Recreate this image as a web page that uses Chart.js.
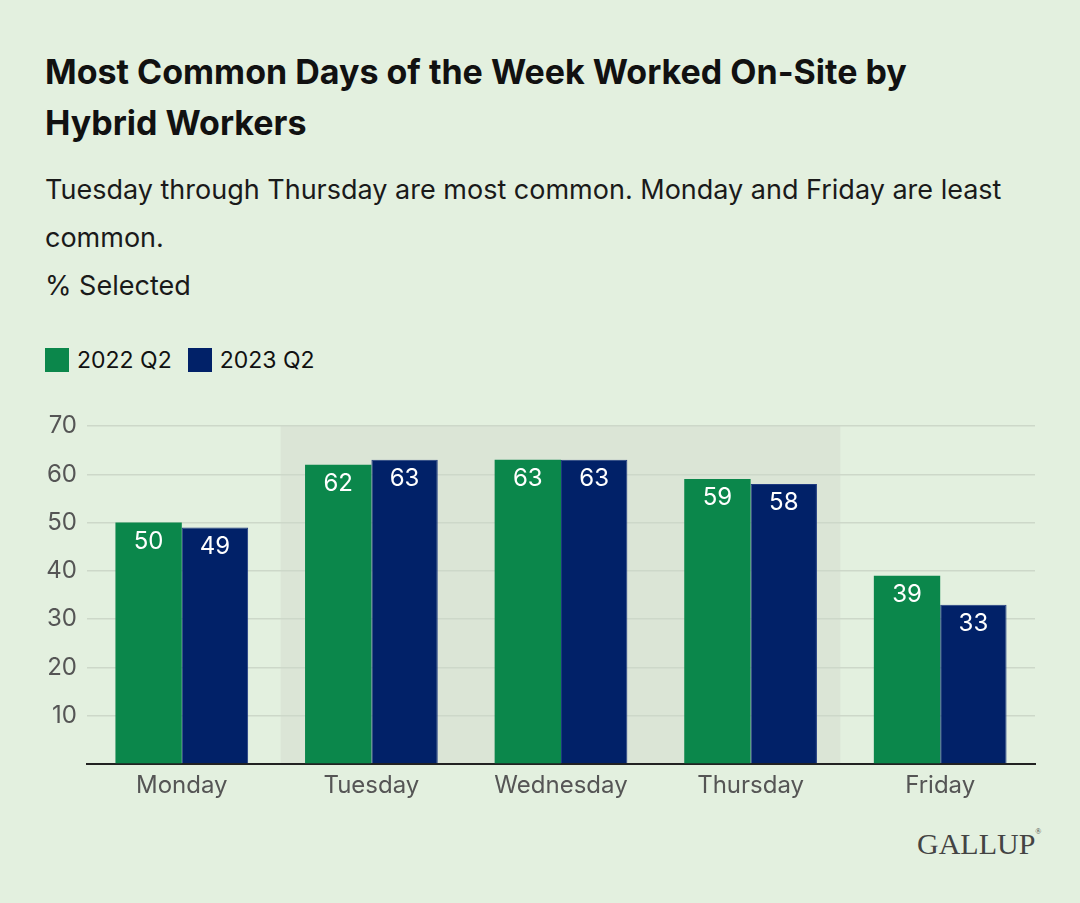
<!DOCTYPE html>
<html>
<head>
<meta charset="utf-8">
<script src="https://cdn.jsdelivr.net/npm/chart.js@4.4.1/dist/chart.umd.min.js"></script>
<style>
  body { margin: 0; background: #e3f0df; font-family: Inter, "Noto Sans", sans-serif; color: #111; }
  #wrap { position: relative; width: 1080px; height: 903px; overflow: hidden; }
  .title { position: absolute; left: 45px; top: 46px; font-size: 34px; font-weight: 700; line-height: 51px; }
  .sub { position: absolute; left: 45px; top: 166px; font-size: 27px; line-height: 48px; color: #1a1a1a; }
  .legend { position: absolute; left: 45px; top: 346px; font-size: 23px; display: flex; align-items: center; }
  .legend span.sw { width: 24px; height: 24px; display: inline-block; margin-right: 8px; }
  .legend span.lb { margin-right: 16px; }
  .logo { position: absolute; left: 917px; top: 827px; font-family: "Liberation Serif", "DejaVu Serif", serif; font-size: 30px; color: #444; }
  #chartBox { position: absolute; left: 0; top: 400px; width: 1080px; height: 420px; }
</style>
</head>
<body>
<div id="wrap">
  <div class="title">Most Common Days of the Week Worked On-Site by<br>Hybrid Workers</div>
  <div class="sub">Tuesday through Thursday are most common. Monday and Friday are least<br>common.<br>% Selected</div>
  <div class="legend" id="legend"></div>
  <div id="chartBox"><canvas id="myChart"></canvas></div>
  <div class="logo">GALLUP<sup style="font-size:8px;vertical-align:top">®</sup></div>
</div>
<script>
// categories and series
const days = ['Monday', 'Tuesday', 'Wednesday', 'Thursday', 'Friday'];
const q2_2022 = [50, 62, 63, 59, 39];
const q2_2023 = [49, 63, 63, 58, 33];
const seriesNames = ['2022 Q2', '2023 Q2'];
const yTicks = [10, 20, 30, 40, 50, 60, 70];

const green = '#0b874b';
const navy = '#012168';

// legend in html
const legendEl = document.getElementById('legend');
[[seriesNames[0], green], [seriesNames[1], navy]].forEach(function (s) {
    legendEl.innerHTML += '<span class="sw" style="background:' + s[1] + '"></span><span class="lb">' + s[0] + '</span>';
});

// shaded band behind Tuesday-Thursday
const bandPlugin = {
    id: 'band',
    beforeDraw(chart) {
        const x = chart.scales.x, y = chart.scales.y, c = chart.ctx;
        const half = (x.getPixelForValue(1) - x.getPixelForValue(0)) / 2;
        const left = x.getPixelForValue(1) - half + 4;
        const right = x.getPixelForValue(3) + half - 5;
        c.save();
        c.fillStyle = '#dbe5d6';
        c.fillRect(left, y.getPixelForValue(70), right - left, y.getPixelForValue(0) - y.getPixelForValue(70));
        c.restore();
    }
};

// white value labels inside the top of each bar
const valuePlugin = {
    id: 'values',
    afterDatasetsDraw(chart) {
        const c = chart.ctx;
        c.save();
        c.fillStyle = '#fff';
        c.font = '24px Inter, "Noto Sans", sans-serif';
        c.textAlign = 'center';
        c.textBaseline = 'middle';
        chart.data.datasets.forEach(function (ds, i) {
            chart.getDatasetMeta(i).data.forEach(function (bar, j) {
                c.fillText(ds.data[j], bar.x, bar.y + 19);
            });
        });
        c.restore();
    }
};

const config = {
    type: 'bar',
    data: {
        labels: days,
        datasets: [
            { label: seriesNames[0], data: q2_2022, backgroundColor: green },
            { label: seriesNames[1], data: q2_2023, backgroundColor: navy, borderColor: '#1f3a80', borderWidth: 1 }
        ]
    },
    options: {
        responsive: true,
        maintainAspectRatio: false,
        animation: false,
        categoryPercentage: 0.7,
        barPercentage: 1.0,
        plugins: {
            legend: { display: false },
            tooltip: { enabled: false }
        },
        layout: {
            padding: { top: 26, right: 45, left: 0, bottom: 0 }
        },
        scales: {
            x: {
                grid: { display: false },
                border: { display: true, color: '#222', width: 2 },
                ticks: {
                    color: '#555',
                    padding: -1,
                    font: { size: 24, family: 'Inter' }
                },
                afterFit(s) { s.height = 56; }
            },
            y: {
                min: 0,
                max: 70,
                afterBuildTicks(s) { s.ticks = [0].concat(yTicks).map(function (v) { return { value: v }; }); },
                grid: { color: '#cdd8c9', lineWidth: 1.5, drawTicks: false },
                border: { display: false },
                ticks: {
                    color: '#555',
                    padding: 10,
                    font: { size: 24, family: 'Inter' },
                    callback: function (v) { return v === 0 ? '' : v; }
                },
                afterFit(s) { s.width = 87; }
            }
        }
    },
    plugins: [bandPlugin, valuePlugin]
};

const ctx = document.querySelector('#myChart');
let myChart = new Chart(ctx, config);
</script>
</body>
</html>
